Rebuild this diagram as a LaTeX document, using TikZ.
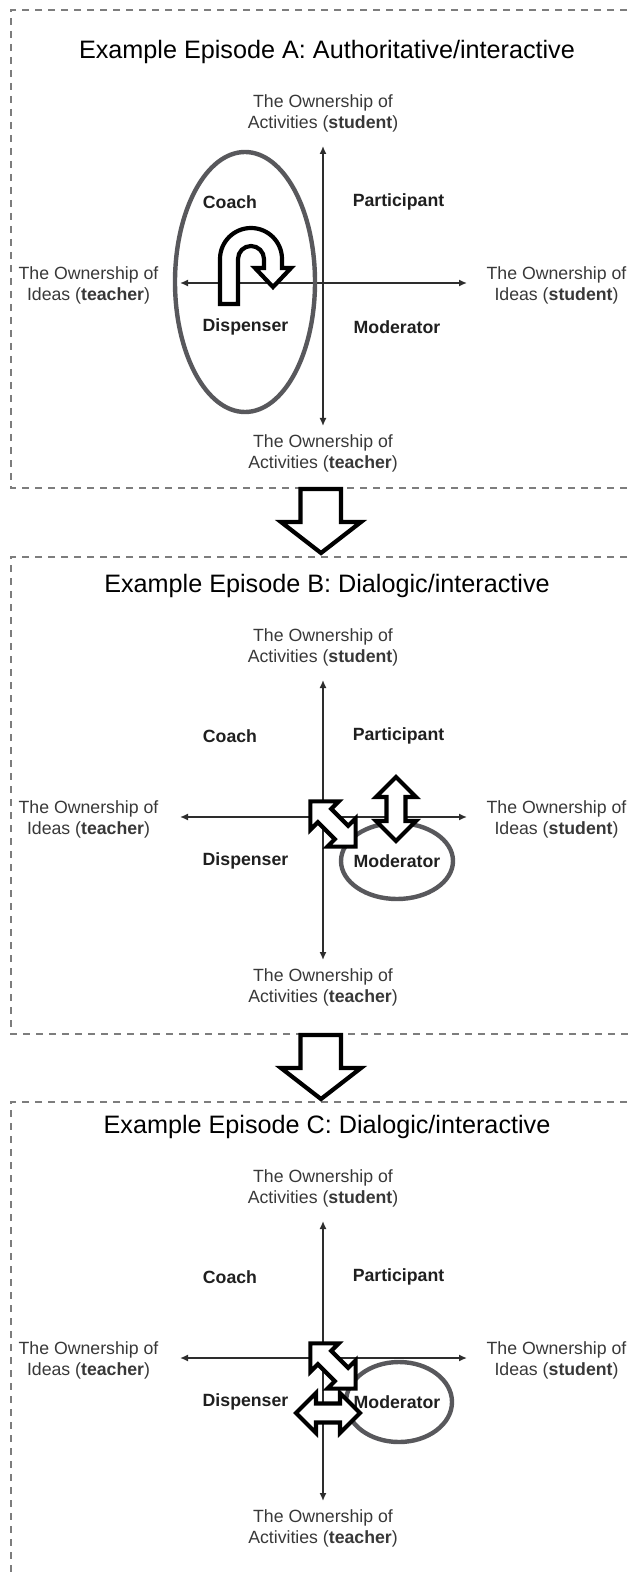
\documentclass[tikz,border=0pt]{standalone}
\usepackage{fontspec}
\setmainfont{Liberation Sans}
\usetikzlibrary{arrows.meta,positioning}
\definecolor{boxgray}{RGB}{125,125,125}
\definecolor{axisgray}{RGB}{45,45,45}
\definecolor{ringgray}{RGB}{88,88,92}
\tikzset{
    episode box/.style={draw=boxgray, line width=0.7pt, dash pattern=on 3.5pt off 3pt},
    episode title/.style={font=\fontsize{12.6}{15}\selectfont, text=black, inner sep=0pt},
    axis label/.style={font=\fontsize{8.85}{10.5}\selectfont, text=black!78, align=center, inner sep=0pt},
    role/.style={font=\fontsize{8.85}{10.5}\selectfont\bfseries, text=black!88, inner sep=0pt},
    axis/.style={axisgray, line width=0.75pt, {Latex[length=4pt,width=3.5pt]}-{Latex[length=4pt,width=3.5pt]}},
    focus/.style={draw=ringgray, line width=2.2pt},
    block arrow/.style={draw=black, line width=2.1pt, fill=white, line join=miter},
    double block/.pic={
        \draw[block arrow] (-32,0) -- (-12,20) -- (-12,9.5) -- (12,9.5) -- (12,20) -- (32,0)
            -- (12,-20) -- (12,-9.5) -- (-12,-9.5) -- (-12,-20) -- cycle;
    }
}

\begin{document}
\begin{tikzpicture}[x=0.5pt,y=-0.5pt]
    \useasboundingbox (0,0) rectangle (632,1577);

    % episode frames
    \draw[episode box] (640,10) -- (11,10) -- (11,488) -- (640,488);
    \draw[episode box] (640,557) -- (11,557) -- (11,1034) -- (640,1034);
    \draw[episode box] (640,1102) -- (11,1102) -- (11,1590);

    % the three quadrant charts
    \foreach \p/\off/\kind in {A/0/Authoritative, B/534/Dialogic, C/1075/Dialogic}{
        \begin{scope}[shift={(0,\off)}]
            \node[episode title] (title\p) at (327,52) {Example Episode \p: \kind/interactive};
            \coordinate (o\p) at (323,283);
            \coordinate (n\p) at (323,146);
            \coordinate (s\p) at (323,426);
            \coordinate (w\p) at (180,283);
            \coordinate (e\p) at (467,283);
            \draw[axis] (s\p) -- (n\p);
            \draw[axis] (w\p) -- (e\p);
            \node[axis label] (actS\p) at (323,113.5) {The Ownership of\\Activities (\textbf{student})};
            \node[axis label] (actT\p) at (323,453) {The Ownership of\\Activities (\textbf{teacher})};
            \node[axis label] (ideaT\p) at (88.5,285) {The Ownership of\\Ideas (\textbf{teacher})};
            \node[axis label] (ideaS\p) at (556.5,285) {The Ownership of\\Ideas (\textbf{student})};
            \node[role] (coach\p) at (230,202) {Coach};
            \node[role] (part\p) at (398.5,202) {Participant};
            \node[role] (disp\p) at (245.5,327) {Dispenser};
            \node[role] (mod\p) at (397,327) {Moderator};
        \end{scope}
    }

    % episode A
    \draw[focus] (245,282) ellipse [x radius=70, y radius=130];
    \draw[block arrow] (220,304) -- (220,259) arc[start angle=180, end angle=360, radius=31]
        -- (282,268) -- (291,268) -- (273,287) -- (255,268) -- (264,268) -- (264,259)
        arc[start angle=360, end angle=180, radius=13] -- (238,304) -- cycle;

    % episode B
    \draw[focus] (modB) ellipse [x radius=56, y radius=38];
    \pic[rotate=-45] at (333,824) {double block};
    \pic[rotate=90] at (396,809) {double block};

    % episode C
    \draw[focus] ([xshift=1pt]modC) ellipse [x radius=53, y radius=40];
    \pic[rotate=-45] at (333,1366) {double block};
    \pic at (328,1413) {double block};

    % transitions
    \draw[block arrow] (300.5,489) -- (341,489) -- (341,522) -- (361,522) -- (321,553)
        -- (281,522) -- (300.5,522) -- cycle;
    \draw[block arrow] (300.5,1035) -- (341,1035) -- (341,1068) -- (361,1068) -- (321,1099)
        -- (281,1068) -- (300.5,1068) -- cycle;
\end{tikzpicture}
\end{document}
